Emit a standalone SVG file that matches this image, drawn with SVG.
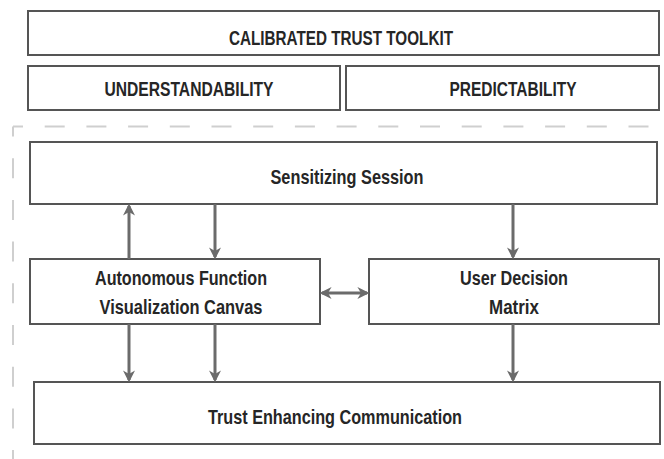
<svg xmlns="http://www.w3.org/2000/svg" width="664" height="459" viewBox="0 0 664 459">
  <style>
    .box { fill: #ffffff; stroke: #555555; stroke-width: 2; }
    .lbl { font-family: "Liberation Sans", Arial, sans-serif; font-weight: bold; font-size: 20.5px; fill: #262626; text-anchor: middle; }
    .conn { stroke: #6b6b6b; stroke-width: 3; fill: none; }
    .frame { stroke: #cfcfcf; stroke-width: 2; fill: none; stroke-dasharray: 20 21.7; stroke-dashoffset: 10; }
  </style>
  <defs>
    <marker id="head" viewBox="0 0 10 10" refX="8" refY="5" markerWidth="4" markerHeight="4" orient="auto-start-reverse" markerUnits="strokeWidth">
      <path d="M0,0 L10,5 L0,10 L3,5 Z" fill="#6b6b6b"/>
    </marker>
  </defs>
  <rect width="664" height="459" fill="#ffffff"/>

  <!-- dashed grouping frame, open to the right and bottom -->
  <g id="frame">
    <line class="frame" x1="13" y1="126.5" x2="664" y2="126.5"/>
    <line class="frame" x1="13" y1="126.5" x2="13" y2="459"/>
  </g>

  <g id="toolkit">
    <rect class="box" x="28" y="11" width="631" height="44"/>
    <text class="lbl" x="341" y="45" textLength="224" lengthAdjust="spacingAndGlyphs">CALIBRATED TRUST TOOLKIT</text>
  </g>
  <g id="understandability">
    <rect class="box" x="28" y="66" width="312" height="44"/>
    <text class="lbl" x="189" y="96.4" textLength="169" lengthAdjust="spacingAndGlyphs">UNDERSTANDABILITY</text>
  </g>
  <g id="predictability">
    <rect class="box" x="346" y="66" width="313" height="44"/>
    <text class="lbl" x="513" y="96.4" textLength="127" lengthAdjust="spacingAndGlyphs">PREDICTABILITY</text>
  </g>
  <g id="sensitizing">
    <rect class="box" x="30" y="142" width="627" height="62"/>
    <text class="lbl" x="347" y="184" textLength="153" lengthAdjust="spacingAndGlyphs">Sensitizing Session</text>
  </g>
  <g id="canvas">
    <rect class="box" x="30" y="259" width="290" height="65"/>
    <text class="lbl" x="181" y="285.4" textLength="172" lengthAdjust="spacingAndGlyphs">Autonomous Function</text>
    <text class="lbl" x="181" y="314.4" textLength="163" lengthAdjust="spacingAndGlyphs">Visualization Canvas</text>
  </g>
  <g id="matrix">
    <rect class="box" x="369" y="259" width="290" height="65"/>
    <text class="lbl" x="514" y="285.4" textLength="108" lengthAdjust="spacingAndGlyphs">User Decision</text>
    <text class="lbl" x="514" y="314.4" textLength="50" lengthAdjust="spacingAndGlyphs">Matrix</text>
  </g>
  <g id="communication">
    <rect class="box" x="34" y="382" width="626" height="62"/>
    <text class="lbl" x="335" y="424" textLength="254" lengthAdjust="spacingAndGlyphs">Trust Enhancing Communication</text>
  </g>

  <g id="connectors">
    <line class="conn" x1="129" y1="259" x2="129" y2="206" marker-end="url(#head)"/>
    <line class="conn" x1="215" y1="204" x2="215" y2="257" marker-end="url(#head)"/>
    <line class="conn" x1="513" y1="204" x2="513" y2="257" marker-end="url(#head)"/>
    <line class="conn" x1="322" y1="293" x2="367" y2="293" marker-start="url(#head)" marker-end="url(#head)"/>
    <line class="conn" x1="129" y1="324" x2="129" y2="380" marker-end="url(#head)"/>
    <line class="conn" x1="215" y1="324" x2="215" y2="380" marker-end="url(#head)"/>
    <line class="conn" x1="513" y1="324" x2="513" y2="380" marker-end="url(#head)"/>
  </g>
</svg>
